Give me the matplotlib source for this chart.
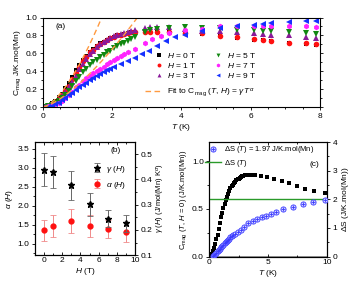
import numpy as np
import matplotlib.pyplot as plt
from matplotlib.ticker import MultipleLocator

plt.rcParams['font.family'] = ['Liberation Sans', 'DejaVu Sans']
plt.rcParams['font.size'] = 6
plt.rcParams['mathtext.fontset'] = 'custom'
plt.rcParams['mathtext.rm'] = 'Liberation Sans'
plt.rcParams['mathtext.it'] = 'Liberation Sans:italic'
plt.rcParams['axes.linewidth'] = 0.8

# ---- panel (a): C_mag vs T for several fields ----
T_low = [0.05, 0.15, 0.25, 0.35, 0.45, 0.55, 0.65, 0.75, 0.85, 0.95, 1.05, 1.15, 1.25, 1.35,
         1.45, 1.55, 1.65, 1.75, 1.85, 1.95, 2.05, 2.15, 2.25, 2.35, 2.45, 2.55, 2.65]
T_hi = [2.95, 3.1, 3.3, 3.65, 4.1, 4.6, 5.1, 5.6, 6.1, 6.35, 6.6, 7.1, 7.6, 7.9]

c_h0 = [0.00, 0.02, 0.04, 0.07, 0.11, 0.15, 0.21, 0.27, 0.34, 0.41, 0.47, 0.52, 0.57, 0.62,
        0.65, 0.68, 0.71, 0.73, 0.75, 0.77, 0.785, 0.80, 0.81, 0.82, 0.83, 0.835, 0.84,
        0.85, 0.85, 0.85, 0.85, 0.84, 0.82, 0.79, 0.77, 0.75, 0.75, 0.74, 0.72, 0.70, 0.69]
c_h1 = [0.00, 0.01, 0.03, 0.06, 0.09, 0.13, 0.18, 0.24, 0.31, 0.38, 0.45, 0.51, 0.56, 0.61,
        0.64, 0.68, 0.70, 0.73, 0.75, 0.77, 0.78, 0.80, 0.81, 0.82, 0.83, 0.835, 0.84,
        0.84, 0.84, 0.84, 0.84, 0.83, 0.825, 0.79, 0.78, 0.76, 0.75, 0.74, 0.72, 0.71, 0.70]
c_h3 = [0.00, 0.01, 0.03, 0.05, 0.08, 0.12, 0.17, 0.22, 0.28, 0.35, 0.42, 0.48, 0.54, 0.59,
        0.63, 0.67, 0.70, 0.73, 0.75, 0.77, 0.79, 0.80, 0.82, 0.83, 0.84, 0.85, 0.86,
        0.88, 0.89, 0.89, 0.89, 0.87, 0.85, 0.85, 0.84, 0.83, 0.82, 0.81, 0.80, 0.78, 0.77]
c_h5 = [0.00, 0.01, 0.02, 0.04, 0.07, 0.10, 0.14, 0.18, 0.23, 0.29, 0.34, 0.39, 0.43, 0.47,
        0.50, 0.53, 0.56, 0.58, 0.61, 0.63, 0.66, 0.68, 0.70, 0.72, 0.74, 0.76, 0.78,
        0.84, 0.86, 0.87, 0.88, 0.89, 0.88, 0.88, 0.86, 0.86, 0.85, 0.85, 0.84, 0.83, 0.82]

T_h7 = [0.05, 0.15, 0.25, 0.35, 0.45, 0.55, 0.65, 0.75, 0.85, 0.95, 1.05, 1.15, 1.25, 1.35,
        1.45, 1.55, 1.65, 1.75, 1.85, 1.95, 2.05, 2.15, 2.25, 2.35, 2.45,
        2.65, 2.95, 3.15, 3.4, 3.65, 4.1, 4.6, 5.1, 5.6, 6.1, 6.35, 6.6, 7.1, 7.6, 7.9]
c_h7 = [0.00, 0.01, 0.02, 0.03, 0.05, 0.07, 0.10, 0.13, 0.17, 0.22, 0.25, 0.29, 0.32, 0.35,
        0.38, 0.40, 0.43, 0.45, 0.48, 0.50, 0.52, 0.55, 0.57, 0.59, 0.61,
        0.65, 0.71, 0.76, 0.79, 0.83, 0.855, 0.87, 0.90, 0.91, 0.91, 0.91, 0.90, 0.90, 0.90, 0.89]

T_h9 = [0.05, 0.15, 0.25, 0.35, 0.45, 0.55, 0.65, 0.75, 0.85, 0.95, 1.05, 1.15, 1.25, 1.35,
        1.45, 1.55, 1.65, 1.75, 1.85, 1.95, 2.05,
        2.25, 2.45, 2.65, 2.85, 3.05, 3.3, 3.55, 3.8, 4.1, 4.6, 5.1, 5.6, 6.1, 6.35, 6.6,
        7.1, 7.6, 7.9]
c_h9 = [0.00, 0.00, 0.01, 0.03, 0.05, 0.08, 0.10, 0.13, 0.16, 0.19, 0.22, 0.25, 0.27, 0.30,
        0.32, 0.35, 0.37, 0.39, 0.41, 0.43, 0.45,
        0.48, 0.51, 0.55, 0.59, 0.63, 0.68, 0.74, 0.78, 0.81, 0.85, 0.88, 0.90, 0.92, 0.93, 0.94,
        0.95, 0.96, 0.96]

# fit C = gamma * T^alpha (H = 0 and H = 7 T)
fit_gamma = [0.44, 0.245]
fit_alpha = [1.55, 1.4]

# ---- panel (b): fit parameters vs field ----
H = [0, 1, 3, 5, 7, 9]
gam = [0.439, 0.429, 0.376, 0.301, 0.245, 0.226]
gam_err = [0.067, 0.063, 0.057, 0.044, 0.035, 0.035]
alp = [1.35, 1.46, 1.59, 1.46, 1.38, 1.31]
alp_err = [0.27, 0.29, 0.31, 0.29, 0.23, 0.26]

# ---- panel (c): zero field C_mag and entropy ----
T_c = [0.1, 0.2, 0.3, 0.4, 0.5, 0.6, 0.7, 0.8, 0.9, 1.0, 1.1, 1.2, 1.3, 1.4, 1.5, 1.6, 1.7,
       1.8, 1.9, 2.0, 2.1, 2.2, 2.3, 2.4, 2.5, 2.6, 2.7, 2.8, 2.9, 3.0, 3.15, 3.3, 3.45, 3.6,
       3.9, 4.4, 4.9, 5.5, 6.2, 6.8, 7.5, 8.1, 8.9, 9.8]
c_c = [0.01, 0.03, 0.06, 0.09, 0.13, 0.18, 0.23, 0.29, 0.35, 0.41, 0.46, 0.51, 0.55, 0.59,
       0.62, 0.66, 0.69, 0.72, 0.74, 0.755, 0.77, 0.785, 0.80, 0.81, 0.815, 0.825, 0.83, 0.84,
       0.845, 0.85, 0.855, 0.86, 0.86, 0.855, 0.85, 0.84, 0.83, 0.81, 0.79, 0.77, 0.74, 0.71,
       0.69, 0.67]
T_s = [0.3, 0.4, 0.5, 0.6, 0.7, 0.8, 0.9, 1.0, 1.1, 1.2, 1.3, 1.4, 1.5, 1.6, 1.7, 1.8, 1.9,
       2.0, 2.2, 2.45, 2.7, 2.95, 3.31, 3.74, 4.08, 4.45, 4.82, 5.22, 5.67, 6.29, 7.09, 7.94,
       8.79, 9.83]
dS = [0.02, 0.05, 0.09, 0.13, 0.18, 0.23, 0.28, 0.33, 0.37, 0.42, 0.46, 0.51, 0.55, 0.59,
      0.63, 0.67, 0.71, 0.75, 0.80, 0.87, 0.94, 1.02, 1.16, 1.24, 1.31, 1.37, 1.43, 1.49,
      1.56, 1.65, 1.74, 1.83, 1.91, 1.98]
dS_total = 1.97
dS_line = 2.0


def ticks_style(ax):
    ax.tick_params(which='both', direction='out', length=2.5, width=0.6, labelsize=6, pad=1.5)
    ax.tick_params(which='minor', length=1.5)


fig = plt.figure(figsize=(3.64, 2.87), dpi=100)

# ----- (a) -----
ax = fig.add_axes([0.118, 0.627, 0.761, 0.312])
ms = 4
ax.plot(T_low + T_hi[:1] + T_hi[2:], c_h0[:28] + c_h0[29:], 's', color='black', ms=ms - 0.5,
        mew=0, label=r'$H$ = 0 T')
ax.plot(T_low + T_hi, c_h1, 'o', color='#ff1010', ms=ms, mew=0, label=r'$H$ = 1 T')
ax.plot(T_low + T_hi, c_h3, '^', color='#8a1a9a', ms=ms, mew=0, label=r'$H$ = 3 T')
ax.plot(T_low + T_hi, c_h5, 'v', color='#118811', ms=ms, mew=0, label=r'$H$ = 5 T')
ax.plot(T_h7, c_h7, 'h', color='#ff22ff', ms=ms, mew=0, label=r'$H$ = 7 T')
ax.plot(T_h9, c_h9, '<', color='#1530ff', ms=ms, mew=0, label=r'$H$ = 9 T')
tt = np.linspace(0, 3, 200)
fit_lines = []
for g, a in zip(fit_gamma, fit_alpha):
    fl, = ax.plot(tt, g * tt ** a, '--', color='#ff9a40', lw=1.0, dashes=(4, 2.5))
    fit_lines.append(fl)
ax.set_xlim(0, 8)
ax.set_ylim(0, 1.0)
ax.xaxis.set_major_locator(MultipleLocator(2))
ax.xaxis.set_minor_locator(MultipleLocator(0.5))
ax.yaxis.set_major_locator(MultipleLocator(0.2))
ax.yaxis.set_minor_locator(MultipleLocator(0.1))
ax.set_yticks(np.arange(0, 1.01, 0.2))
ax.set_yticklabels(['%.1f' % v for v in np.arange(0, 1.01, 0.2)])
ticks_style(ax)
ax.tick_params(which='both', right=True)
ax.set_xlabel(r'$T$ (K)', fontsize=6, labelpad=2)
ax.set_ylabel(r'C$_{\rm mag}$ J/K.mol(Mn)', fontsize=6, labelpad=2)
ax.text(0.35, 0.88, '(a)', fontsize=6)
leg1 = ax.legend(ncol=2, loc='upper left', bbox_to_anchor=(0.40, 0.625), frameon=False,
                 fontsize=6, handlelength=1.2, handletextpad=0.4, columnspacing=2.0,
                 labelspacing=0.1, borderpad=0, borderaxespad=0, markerscale=0.7)
ax.add_artist(leg1)
ax.legend([fit_lines[0]], [r'Fit to C$_{\rm mag}$ ($T$, $H$) = $\gamma T^{\,\alpha}$'],
          loc='upper left', bbox_to_anchor=(0.368, 0.23), frameon=False, fontsize=6,
          handlelength=2.0, handletextpad=0.6, borderpad=0, borderaxespad=0)

# ----- (b) -----
axb = fig.add_axes([0.096, 0.111, 0.275, 0.394])
axb2 = axb.twinx()
axb2.errorbar(H, gam, yerr=gam_err, fmt='*', color='black', ecolor='#666666', ms=4.5,
              elinewidth=0.7, capsize=2, capthick=0.6, label=r'$\gamma$ ($H$)')
axb.errorbar(H, alp, yerr=alp_err, fmt='o', color='#ff1010', ecolor='#f08a8a', ms=3.5,
             elinewidth=0.7, capsize=2, capthick=0.6, label=r'$\alpha$ ($H$)')
axb.set_xlim(-1, 10)
axb.set_ylim(0.7, 3.67)
axb2.set_ylim(0.1, 0.548)
axb.xaxis.set_major_locator(MultipleLocator(2))
axb.xaxis.set_minor_locator(MultipleLocator(1))
axb.yaxis.set_major_locator(MultipleLocator(0.5))
axb.yaxis.set_minor_locator(MultipleLocator(0.25))
axb2.yaxis.set_major_locator(MultipleLocator(0.1))
axb2.yaxis.set_minor_locator(MultipleLocator(0.05))
ticks_style(axb)
ticks_style(axb2)
axb.tick_params(axis='x', which='both', top=True, direction='in')
axb.set_xlabel(r'$H$ (T)', fontsize=6, labelpad=1.5)
axb.set_ylabel(r'$\alpha$ ($H$)', fontsize=6, labelpad=2)
axb2.set_ylabel(r'$\gamma$ ($H$) (J/mol(Mn) K$^{\alpha}$)', fontsize=5.5, labelpad=2)
axb.text(7.3, 3.42, '(b)', fontsize=6)
hb1, lb1 = axb2.get_legend_handles_labels()
hb2, lb2 = axb.get_legend_handles_labels()
axb2.legend(hb1 + hb2, lb1 + lb2, loc='upper left', bbox_to_anchor=(0.58, 0.81),
            frameon=False, fontsize=6, handlelength=1.0, handletextpad=0.5,
            labelspacing=0.6, borderpad=0, borderaxespad=0)

# ----- (c) -----
axc = fig.add_axes([0.575, 0.106, 0.323, 0.399])
axc2 = axc.twinx()
axc.axhline(0, color='#999999', lw=1.4, zorder=1)
axc.plot(T_c, c_c, 's', color='black', ms=3.3, mew=0)
axc.set_xlim(0, 10)
axc.set_ylim(0, 1.2)
axc2.set_ylim(0, 4)
hs1 = axc2.scatter(T_s, dS, s=14, facecolor='#d4d4ff', edgecolor='#3a3aff', lw=0.6, zorder=3)
hs2 = axc2.scatter(T_s, dS, s=12, marker='+', color='#3a3aff', lw=0.6, zorder=4)
hg, = axc2.plot([0, 10], [dS_line, dS_line], color='#2a9a2a', lw=1.0)
axc.xaxis.set_major_locator(MultipleLocator(5))
axc.xaxis.set_minor_locator(MultipleLocator(2.5))
axc.yaxis.set_major_locator(MultipleLocator(0.5))
axc.yaxis.set_minor_locator(MultipleLocator(0.25))
axc2.yaxis.set_major_locator(MultipleLocator(1))
axc2.yaxis.set_minor_locator(MultipleLocator(0.5))
ticks_style(axc)
ticks_style(axc2)
axc.tick_params(axis='x', which='both', top=True, direction='in')
axc.set_xlabel(r'$T$ (K)', fontsize=6, labelpad=1.5)
axc.set_ylabel(r'C$_{\rm mag}$ ($T$, $H$ = 0) (J/K.mol(Mn))', fontsize=5.5, labelpad=2)
axc2.set_ylabel(r'$\Delta$S (J/K.mol(Mn))', fontsize=6, labelpad=2)
axc.text(8.5, 0.95, '(c)', fontsize=6)
axc2.legend([(hs1, hs2), hg], [r'$\Delta$S ($T$) = %.2f J/K.mol(Mn)' % dS_total, r'$\Delta$S ($T$)'],
            loc='upper left', bbox_to_anchor=(-0.04, 0.98), frameon=False, fontsize=5.5,
            handlelength=2.2, handletextpad=0.4, labelspacing=0.3, borderpad=0, borderaxespad=0)

fig.savefig('out.png', dpi=100)
